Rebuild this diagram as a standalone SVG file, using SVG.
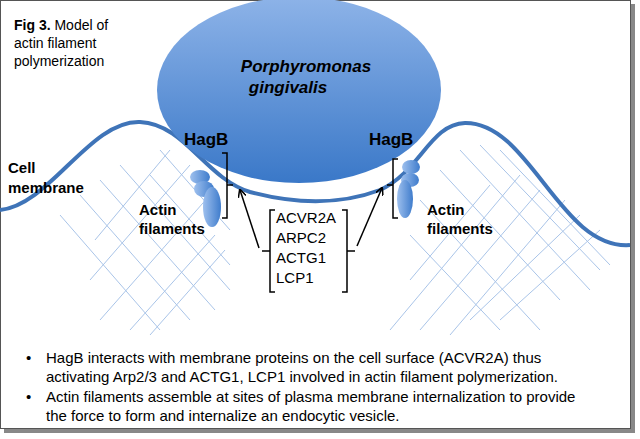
<svg xmlns="http://www.w3.org/2000/svg" width="640" height="439" viewBox="0 0 640 439">
<defs>
<linearGradient id="g" x1="0" y1="0" x2="0" y2="1"><stop offset="0" stop-color="#8db3e8"/><stop offset="1" stop-color="#3a78c8"/></linearGradient>
<linearGradient id="p" x1="0" y1="0" x2="1" y2="0"><stop offset="0" stop-color="#9ec0ee"/><stop offset="1" stop-color="#3f7ccc"/></linearGradient>
<marker id="a" markerWidth="8" markerHeight="8" refX="7" refY="4" orient="auto" markerUnits="userSpaceOnUse"><path d="M0,0 L8,4 L0,8" fill="none" stroke="#000" stroke-width="1.5"/></marker>
<style>
text{font-family:"Liberation Sans",Arial,sans-serif;fill:#000}
.b{font-weight:bold;font-size:15px}
.hg{font-weight:bold;font-size:17px}
.t{font-size:15px}
.h{stroke:#a9c4e8;stroke-width:1}
.br{fill:none;stroke:#000;stroke-width:1.5}
</style>
</defs>
<rect x="4" y="4" width="631" height="429" fill="#888"/>
<rect x="0.5" y="0.5" width="630" height="428" fill="#fff" stroke="#555"/>
<g id="hatch" class="h">
<line x1="60" y1="215" x2="160" y2="330"/><line x1="80" y1="195" x2="190" y2="320"/><line x1="100" y1="180" x2="215" y2="310"/><line x1="120" y1="165" x2="230" y2="290"/><line x1="150" y1="175" x2="230" y2="265"/><line x1="160" y1="150" x2="230" y2="230"/>
<line x1="90" y1="280" x2="190" y2="165"/><line x1="100" y1="320" x2="210" y2="195"/><line x1="130" y1="330" x2="215" y2="235"/><line x1="95" y1="240" x2="170" y2="150"/><line x1="150" y1="335" x2="225" y2="250"/>
<line x1="440" y1="170" x2="560" y2="300"/><line x1="420" y1="200" x2="540" y2="330"/><line x1="460" y1="150" x2="590" y2="290"/><line x1="480" y1="145" x2="600" y2="270"/><line x1="500" y1="150" x2="610" y2="265"/><line x1="410" y1="235" x2="500" y2="330"/>
<line x1="390" y1="330" x2="520" y2="175"/><line x1="420" y1="330" x2="540" y2="190"/><line x1="450" y1="335" x2="565" y2="200"/><line x1="470" y1="320" x2="580" y2="215"/><line x1="410" y1="280" x2="490" y2="185"/><line x1="500" y1="320" x2="600" y2="230"/>
</g>
<g id="membrane">
<path d="M0,210 C50,205 90,120 140,122 C185,124 205,178 250,192 C295,204 340,205 380,190 C420,172 430,124 465,123 C530,122 560,250 630,245" fill="none" stroke="#3f74b8" stroke-width="4"/>
<text class="b" x="8" y="173">Cell</text><text class="b" x="8" y="193">membrane</text>
</g>
<g id="bacterium">
<ellipse cx="299" cy="90" rx="142" ry="93" fill="url(#g)"/>
<text x="306" y="72" text-anchor="middle" style="font-weight:bold;font-style:italic;font-size:17px">Porphyromonas</text>
<text x="288" y="93" text-anchor="middle" style="font-weight:bold;font-style:italic;font-size:17px">gingivalis</text>
</g>
<g id="hagb-left">
<ellipse cx="200" cy="177" rx="10" ry="7" fill="url(#p)"/>
<ellipse cx="204" cy="189" rx="10" ry="8" fill="url(#p)"/>
<ellipse cx="212" cy="207" rx="9" ry="20" fill="url(#p)"/>
<text class="hg" x="184" y="145">HagB</text>
<path class="br" d="M222,153 H227 V218 H222 M227,185 H233"/>
<text class="b" x="139" y="215">Actin</text><text class="b" x="139" y="234">filaments</text>
</g>
<g id="hagb-right">
<ellipse cx="411" cy="167" rx="9" ry="7" fill="url(#p)"/>
<ellipse cx="410" cy="180" rx="9" ry="7" fill="url(#p)"/>
<ellipse cx="405" cy="199" rx="8" ry="19" fill="url(#p)"/>
<text class="hg" x="369" y="145">HagB</text>
<path class="br" d="M398,159 H393 V218 H398 M393,185 H387"/>
<text class="b" x="427" y="215">Actin</text><text class="b" x="427" y="234">filaments</text>
</g>
<g id="proteins">
<path class="br" d="M275,210 H270 V292 H275 M270,251 H262"/>
<path class="br" d="M342,210 H347 V292 H342 M347,251 H355"/>
<text class="t" x="276" y="223">ACVR2A</text>
<text class="t" x="276" y="243">ARPC2</text>
<text class="t" x="276" y="263">ACTG1</text>
<text class="t" x="276" y="283">LCP1</text>
</g>
<g id="connectors" fill="none" stroke="#000" stroke-width="1.5">
<line x1="259" y1="248" x2="240" y2="190" marker-end="url(#a)"/>
<line x1="357" y1="246" x2="382" y2="188" marker-end="url(#a)"/>
</g>
<text x="14" y="30" style="font-size:14px"><tspan font-weight="bold">Fig 3.</tspan> Model of</text>
<text x="14" y="48" style="font-size:14px">actin filament</text>
<text x="14" y="66" style="font-size:14px">polymerization</text>
<g id="notes" class="t">
<text x="26" y="363">•</text><text x="46" y="363">HagB interacts with membrane proteins on the cell surface (ACVR2A)  thus</text>
<text x="46" y="382">activating Arp2/3 and ACTG1, LCP1 involved in actin filament polymerization.</text>
<text x="26" y="402">•</text><text x="46" y="402">Actin filaments assemble at sites of plasma membrane internalization to provide</text>
<text x="46" y="421">the force to form and internalize an endocytic vesicle.</text>
</g>
</svg>
